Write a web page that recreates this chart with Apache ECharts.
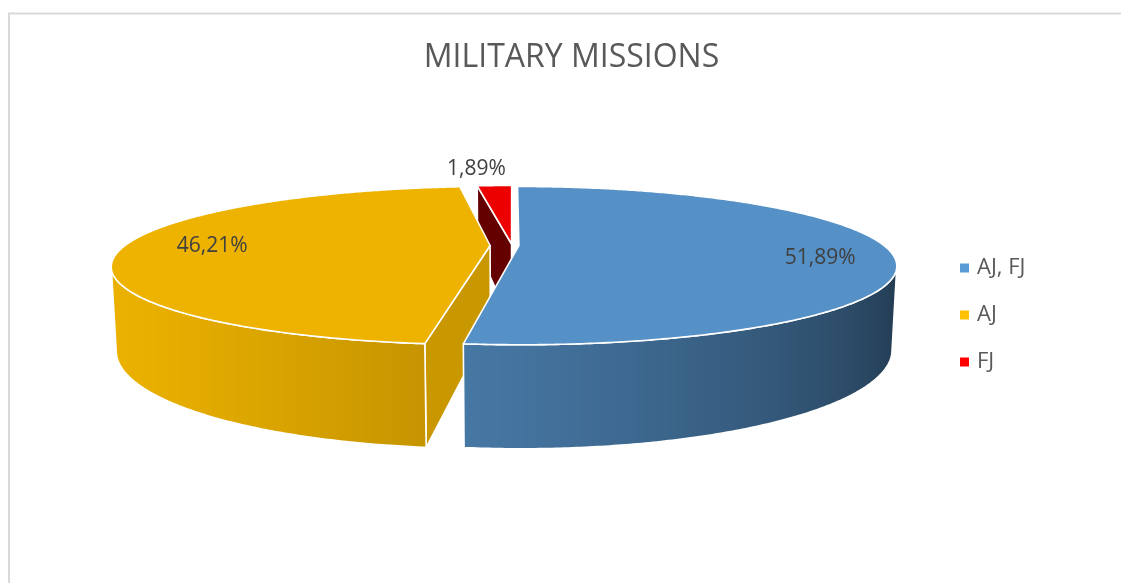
<!DOCTYPE html>
<html>
<head>
<meta charset="utf-8">
<script src="https://cdn.jsdelivr.net/npm/echarts@6/dist/echarts.min.js"></script>
<style>
  html, body { margin: 0; padding: 0; background: #ffffff; }
  #chart { width: 1121px; height: 583px; }
</style>
</head>
<body>
<div id="chart"></div>
<script>
// ---- data ----
const categories = ['AJ, FJ', 'AJ', 'FJ'];
const shares = [51.89, 46.21, 1.89];
const baseColors = ['#5B9BD5', '#FFC000', '#FF0000'];

// ---- look of the tilted pie ----
const view = {
  cx: 512, cy: 245.5,          // screen position of the pie centre (top face)
  scale: 365,                  // pixels per radius at the centre depth
  dist: 3.87,                  // camera distance, in radii
  tilt: 11.7 * Math.PI / 180,  // elevation of the camera
  depth: 0.224                 // slab thickness, in radii
};
const explodeBy = [0.019, 0.06, 0.02];   // slice offsets, in radii
const labelRadius = [0.8, 0.8, 1.0];
const labelShift = [[6, 9], [14, 1], [-18, -17]];
const FONT = '"Open Sans", "Noto Sans", sans-serif';

const sinT = Math.sin(view.tilt), cosT = Math.cos(view.tilt);
const camZ = -view.dist * cosT;
const DEG = Math.PI / 180;

function project(X, Y, Z) {
  const yc = Y * cosT + Z * sinT;
  const zc = view.dist - Y * sinT + Z * cosT;
  const k = view.scale * view.dist / zc;
  return [view.cx + X * k, view.cy - yc * k];
}
function depthOf(X, Y, Z) { return view.dist - Y * sinT + Z * cosT; }

function shade(hex, f) {
  const n = parseInt(hex.slice(1), 16);
  const r = Math.min(255, Math.round(((n >> 16) & 255) * f));
  const g = Math.min(255, Math.round(((n >> 8) & 255) * f));
  const b = Math.min(255, Math.round((n & 255) * f));
  return 'rgb(' + r + ',' + g + ',' + b + ')';
}
// light falls on the rounded wall from the left-front
function wallShade(phi) { return 0.609 + 0.312 * Math.cos((phi - 245) * DEG); }
// flat cut faces: brighter when facing right
function cutShade(normalAngle) { return 0.59 + 0.2 * Math.cos((normalAngle - 90) * DEG); }

const total = shares.reduce((a, b) => a + b, 0);
const startAngles = [];
shares.reduce((acc, v, i) => { startAngles[i] = acc / total * 360; return acc + v; }, 0);

function fmtPct(v) { return v.toFixed(2).replace('.', ',') + '%'; }

function renderSlice(params, api) {
  const i = params.dataIndex;
  const value = api.value(0);
  const a0 = startAngles[i];
  const a1 = a0 + value / total * 360;
  const mid = (a0 + a1) / 2;
  const e = explodeBy[i];
  const ox = e * Math.sin(mid * DEG), oz = e * Math.cos(mid * DEG);
  const h = view.depth;
  const base = baseColors[i];
  const rim = (phi, Y) => project(ox + Math.sin(phi * DEG), Y, oz + Math.cos(phi * DEG));
  const children = [];
  const edge = { stroke: '#ffffff', lineWidth: 1.6, lineJoin: 'round' };

  // top face
  const steps = Math.max(2, Math.ceil((a1 - a0) / 0.5));
  const topPts = [project(ox, 0, oz)];
  for (let s = 0; s <= steps; s++) topPts.push(rim(a0 + (a1 - a0) * s / steps, 0));
  children.push({
    type: 'polygon', shape: { points: topPts }, z2: 300,
    style: Object.assign({ fill: shade(base, 0.93) }, edge)
  });

  // rounded outer wall, only where it faces the camera
  const faces = phi => (-Math.sin(phi * DEG) * ox - Math.cos(phi * DEG) * (-camZ + oz) - 1) > 0;
  const boundary = (pIn, pOut) => {
    for (let k = 0; k < 30; k++) {
      const m = (pIn + pOut) / 2;
      if (faces(m)) pIn = m; else pOut = m;
    }
    return pIn;
  };
  let run = null;
  const runs = [];
  let prev = a0;
  for (let s = 0; s <= steps; s++) {
    const phi = a0 + (a1 - a0) * s / steps;
    if (faces(phi)) {
      if (!run) { run = [s === 0 ? phi : boundary(phi, prev)]; if (s !== 0) run.push(phi); }
      else run.push(phi);
    } else if (run) {
      run.push(boundary(prev, phi));
      runs.push(run); run = null;
    }
    prev = phi;
  }
  if (run) runs.push(run);
  runs.forEach(angles => {
    if (angles.length < 2) return;
    const up = angles.map(p => rim(p, 0));
    const down = angles.map(p => rim(p, -h)).reverse();
    const xs = up.map(p => p[0]);
    const xmin = Math.min.apply(null, xs), xmax = Math.max.apply(null, xs);
    const stops = angles.map((p, k) => ({
      offset: xmax > xmin ? (xs[k] - xmin) / (xmax - xmin) : 0,
      color: shade(base, wallShade(p))
    })).sort((a, b) => a.offset - b.offset);
    const midA = angles[Math.floor(angles.length / 2)];
    const d = depthOf(ox + Math.sin(midA * DEG), -h / 2, oz + Math.cos(midA * DEG));
    children.push({
      type: 'polygon', shape: { points: up.concat(down) }, z2: 200 - d * 10,
      style: Object.assign({ fill: new echarts.graphic.LinearGradient(xmin, 0, xmax, 0, stops, true) }, edge)
    });
  });

  // flat cut faces at both ends of the wedge
  if (a1 - a0 < 359.99) {
    [[a0, a0 - 90], [a1, a1 + 90]].forEach(([ang, nAng]) => {
      const nx = Math.sin(nAng * DEG), nz = Math.cos(nAng * DEG);
      const px = ox + 0.5 * Math.sin(ang * DEG), pz = oz + 0.5 * Math.cos(ang * DEG);
      const dot = nx * (0 - px) + nz * (camZ - pz);
      if (dot <= 0) return;
      const pts = [
        project(ox, 0, oz), rim(ang, 0), rim(ang, -h), project(ox, -h, oz)
      ];
      const d = depthOf(px, -h / 2, pz);
      children.push({
        type: 'polygon', shape: { points: pts }, z2: 100 - d * 10,
        style: Object.assign({ fill: shade(base, cutShade(((nAng % 360) + 360) % 360)) }, edge)
      });
    });
  }

  // value label
  const r = labelRadius[i];
  const lp = project(ox + r * Math.sin(mid * DEG), 0, oz + r * Math.cos(mid * DEG));
  children.push({
    type: 'text', z2: 400,
    x: lp[0] + labelShift[i][0], y: lp[1] + labelShift[i][1],
    style: {
      text: fmtPct(value), fill: '#404040', fontSize: 21, fontFamily: FONT,
      align: 'center', verticalAlign: 'middle'
    }
  });

  return { type: 'group', children: children };
}

const chart = echarts.init(document.getElementById('chart'), null, { renderer: 'canvas' });
chart.setOption({
  backgroundColor: '#ffffff',
  animation: false,
  graphic: [
    {
      type: 'rect', silent: true, z: -10,
      shape: { x: 9, y: 13.5, width: 1300, height: 800 },
      style: { fill: 'none', stroke: '#d9d9d9', lineWidth: 2 }
    },
    {
      type: 'text', x: 571.5, y: 58,
      style: {
        text: 'MILITARY MISSIONS', fill: '#595959', fontSize: 32, fontFamily: FONT,
        align: 'center', verticalAlign: 'middle'
      }
    }
  ],
  legend: {
    data: categories,
    orient: 'vertical',
    left: 955, top: 252,
    itemWidth: 9, itemHeight: 9, itemGap: 25,
    icon: 'rect',
    textStyle: { color: '#595959', fontSize: 22, fontFamily: FONT, padding: [0, 0, 0, 3] }
  },
  series: [
    {
      // carries the legend swatches; drawn with no radius
      type: 'pie', name: 'legend', radius: [0, 0], center: [view.cx, view.cy],
      silent: true, label: { show: false }, labelLine: { show: false },
      data: categories.map((c, i) => ({ name: c, value: shares[i], itemStyle: { color: baseColors[i] } }))
    },
    {
      type: 'custom', name: 'MILITARY MISSIONS', coordinateSystem: 'none',
      renderItem: renderSlice,
      data: shares.map(v => [v])
    }
  ]
});
</script>
</body>
</html>
